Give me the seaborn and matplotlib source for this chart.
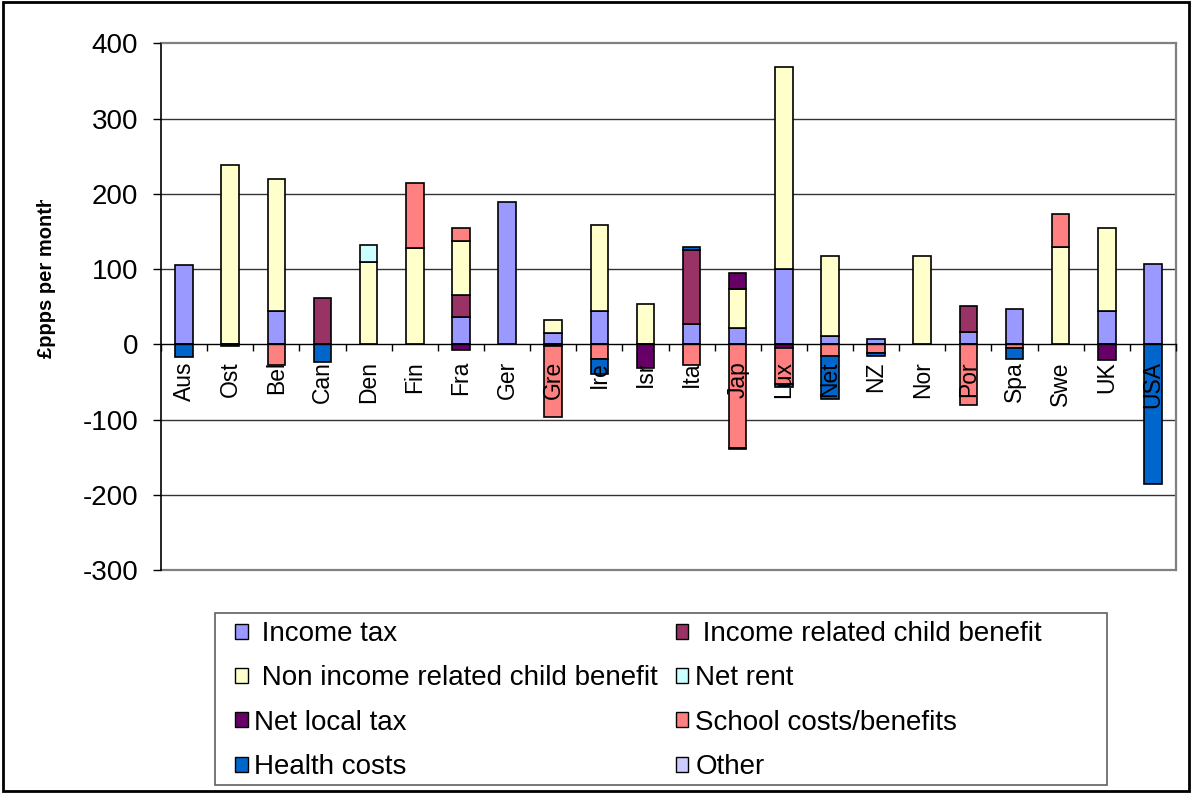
import matplotlib
matplotlib.use("Agg")
import matplotlib.pyplot as plt
from matplotlib.patches import Patch, Rectangle
from matplotlib.transforms import Bbox, TransformedBbox
import numpy as np
import pandas as pd
import seaborn as sns

# Countries along the x axis
countries = ["Aus", "Ost", "Bel", "Can", "Den", "Fin", "Fra", "Ger", "Gre", "Ire", "Isr",
             "Ita", "Jap", "Lux", "Net", "NZ", "Nor", "Por", "Spa", "Swe", "UK", "USA"]

# Components of the package, £ppps per month
income_tax = [105, 0, 44, 0, 0, 0, 37, 189, 15, 44, 0, 27, 22, 100, 11, 7, 0, 16, 47, 0, 44, 107]
income_related_cb = [0, 0, 0, 61, 0, 0, 28, 0, 0, 0, 0, 98, 0, 0, 0, 0, 0, 35, 0, 0, 0, 0]
non_income_related_cb = [0, 238, 176, 0, 109, 128, 73, 0, 17, 115, 53, 0, 52, 269, 107, 0, 117, 0, 0, 130, 110, 0]
net_rent = [0, 0, 0, 0, 23, 0, 0, 0, 0, 0, 0, 0, 0, 0, 0, 0, 0, 0, 0, 0, 0, 0]
net_local_tax = [0, -2, 0, 0, 0, 0, -8, 0, -2, 0, -31, 0, 21, -5, 0, 0, 0, 0, 0, 0, -21, 0]
school_costs = [0, 0, -28, 0, 0, 87, 16, 0, -95, -20, 0, -28, -137, -48, -16, -11, 0, -80, -5, 43, 0, 0]
health_costs = [-17, 0, 0, -24, 0, 0, 0, 0, 0, -19, 0, 5, -2, -3, -56, -5, 0, 0, -15, 0, 0, -185]
other = [0] * 22

series_labels = [" Income tax", " Income related child benefit", " Non income related child benefit",
                 "Net rent", "Net local tax", "School costs/benefits", "Health costs", "Other"]
series_values = [income_tax, income_related_cb, non_income_related_cb, net_rent,
                 net_local_tax, school_costs, health_costs, other]
series_colors = ["#9999FF", "#993366", "#FFFFCC", "#CCFFFF",
                 "#660066", "#FF8080", "#0066CC", "#CCCCFF"]

y_ticks = [-300, -200, -100, 0, 100, 200, 300, 400]
y_title = "£ppps per month"

plt.rcParams["font.family"] = ["Liberation Sans", "DejaVu Sans"]

W, H = 1192, 793
fig = plt.figure(figsize=(W / 100, H / 100), dpi=100)
ax = fig.add_axes([161 / W, 1 - 570.2 / H, (1176 - 161) / W, (570.2 - 43.3) / H])

n = len(countries)
pos_base = np.zeros(n)
neg_base = np.zeros(n)
for label, vals, col in zip(series_labels, series_values, series_colors):
    vals = np.asarray(vals, dtype=float)
    bottoms = np.where(vals >= 0, pos_base, neg_base)
    mask = vals != 0
    if mask.any():
        df = pd.DataFrame({"country": np.array(countries)[mask], "value": vals[mask]})
        sns.barplot(data=df, x="country", y="value", order=countries, color=col,
                    saturation=1, width=0.38, edgecolor="black", linewidth=1.2,
                    errorbar=None, bottom=bottoms[mask], ax=ax, zorder=1)
    pos_base += np.where(vals > 0, vals, 0)
    neg_base += np.where(vals < 0, vals, 0)

ax.set_xlabel("")
ax.set_ylabel("")
ax.set_xlim(-0.5, n - 0.5)
ax.set_ylim(-300, 400)
ax.set_axisbelow(False)

# horizontal grid behind the bars
for y in y_ticks[1:-1]:
    if y != 0:
        ax.axhline(y, color="#333333", lw=1.0, zorder=0.5)
ax.axhline(-300, color="#808080", lw=1.6, zorder=0.6, clip_on=False)

# y axis
ax.set_yticks(y_ticks)
ax.set_yticklabels([str(v) for v in y_ticks])
ax.tick_params(axis="y", direction="out", length=6, width=1, pad=10.5,
               labelsize=20, color="black")

# x axis sits on the zero line, ticks between categories
ax.spines["bottom"].set_position(("data", 0))
ax.set_xticks(range(n))
ax.set_xticklabels(countries, rotation=90)
ax.set_xticks(np.arange(-0.5, n), minor=True)
ax.tick_params(axis="x", which="major", length=0, pad=12, labelsize=16.5)
ax.tick_params(axis="x", which="minor", length=5, width=1, direction="out", color="black")

ax.spines["left"].set_color("black")
ax.spines["left"].set_linewidth(1.2)
ax.spines["bottom"].set_color("black")
ax.spines["bottom"].set_linewidth(1.0)
for side in ("top", "right"):
    ax.spines[side].set_color("#808080")
    ax.spines[side].set_linewidth(1.6)

# axis title, cut off at the top of its box
t = fig.text(47 / W, 1 - 358 / H, y_title, rotation=90, fontsize=14.5, fontweight="bold",
             ha="center", va="bottom")
t.set_clip_box(TransformedBbox(Bbox([[0, 0], [1, 1 - 200 / H]]), fig.transFigure))
t.set_clip_on(True)

# legend: two columns filled row by row
handles = [Patch(facecolor=c, edgecolor="black", linewidth=1.0) for c in series_colors]
order = [0, 2, 4, 6, 1, 3, 5, 7]
fig.legend([handles[i] for i in order], [series_labels[i] for i in order],
           ncol=2, loc="upper left", bbox_to_anchor=(235 / W, 1 - 621 / H),
           frameon=False, fontsize=20, borderpad=0, borderaxespad=0,
           handlelength=0.45, handleheight=0.45, handletextpad=0.25,
           labelspacing=0.66, columnspacing=0.63)
fig.patches.append(Rectangle((215 / W, 1 - 785 / H), (1107 - 215) / W, (785 - 613) / H,
                             transform=fig.transFigure, fill=False,
                             edgecolor="#606060", linewidth=1.2))

# chart border
fig.patches.append(Rectangle((3 / W, 2 / H), (1189 - 3) / W, (791 - 2) / H,
                             transform=fig.transFigure, fill=False,
                             edgecolor="black", linewidth=2))

fig.savefig("out.png", dpi=100)
